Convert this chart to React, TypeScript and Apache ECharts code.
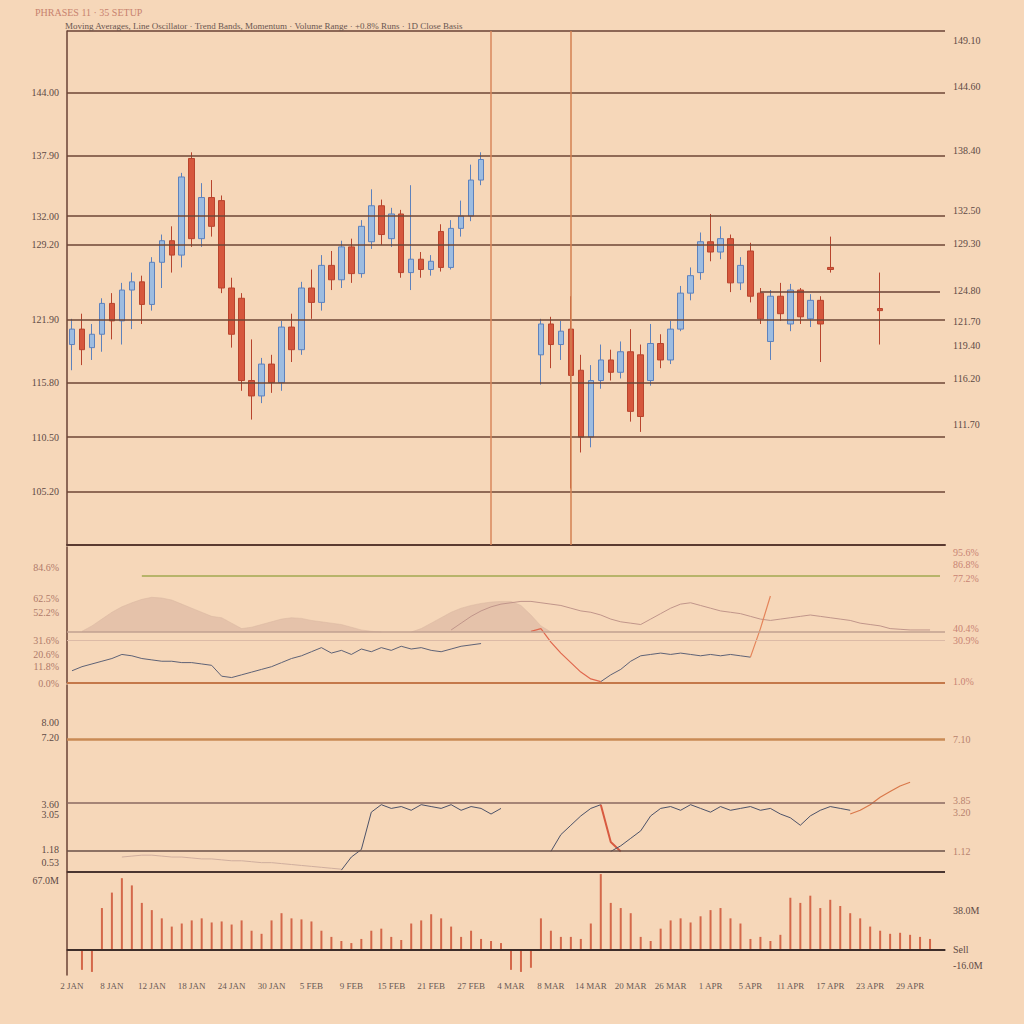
import React, { useEffect, useRef } from "react";
import * as echarts from "echarts";

const N = 88;

// ---------- categories (trading days) ----------
const categories: string[] = (() => {
  const months = ["JAN", "FEB", "MAR", "APR", "MAY", "JUN"];
  const out: string[] = [];
  const d = new Date(2024, 0, 2);
  while (out.length < N) {
    const wd = d.getDay();
    if (wd !== 0 && wd !== 6) out.push(`${d.getDate()} ${months[d.getMonth()]}`);
    d.setDate(d.getDate() + 1);
  }
  return out;
})();

// ---------- main panel: candles [open, close, low, high] ----------
const candleRows: (number[] | null)[] = [
  [119.5, 121.0, 117.0, 122.0], [121.0, 119.0, 117.5, 122.5], [119.2, 120.5, 118.0, 121.5], [120.5, 123.5, 118.8, 124.0],
  [123.5, 121.8, 120.0, 124.5], [121.8, 124.8, 119.5, 125.5], [124.8, 125.6, 121.0, 126.5], [125.6, 123.4, 121.5, 126.2],
  [123.4, 127.5, 122.8, 128.0], [127.5, 129.6, 125.0, 130.2], [129.6, 128.2, 126.5, 131.0], [128.2, 135.8, 127.0, 136.2],
  [137.6, 129.8, 129.0, 138.2], [129.8, 133.8, 129.0, 135.2], [133.8, 131.0, 130.0, 135.5], [133.5, 125.0, 124.5, 134.0],
  [125.0, 120.5, 119.2, 126.0], [124.0, 116.0, 115.0, 124.5], [116.0, 114.5, 112.2, 120.0], [114.5, 117.6, 113.8, 118.2],
  [117.6, 115.8, 114.8, 118.5], [115.8, 121.2, 115.0, 121.8], [121.2, 119.0, 117.8, 122.5], [119.0, 125.0, 118.5, 125.6],
  [125.0, 123.6, 122.0, 126.8], [123.6, 127.2, 122.8, 128.2], [127.2, 125.8, 124.8, 128.6], [125.8, 129.0, 125.0, 129.6],
  [129.0, 126.4, 125.5, 129.8], [126.4, 131.0, 126.0, 131.6], [129.5, 133.0, 128.8, 134.6], [133.0, 130.2, 129.2, 133.6],
  [129.8, 132.2, 129.0, 132.8], [132.2, 126.5, 126.0, 132.6], [126.5, 127.8, 124.8, 135.0], [127.8, 126.8, 126.0, 128.5],
  [126.8, 127.6, 126.2, 128.2], [130.5, 127.0, 126.6, 131.2], [127.0, 130.8, 126.8, 131.6], [130.8, 132.0, 130.0, 133.5],
  [132.0, 135.5, 131.5, 137.0], [135.5, 137.5, 135.0, 138.2],
  null, null, null, null, null,
  [118.5, 121.5, 115.6, 122.0], [121.5, 119.5, 117.2, 122.2], [119.5, 120.8, 118.0, 121.8], [121.0, 116.5, 105.5, 124.2],
  [117.0, 110.5, 109.0, 118.5], [110.5, 116.0, 109.5, 117.5], [116.0, 118.0, 115.2, 119.5], [118.0, 116.8, 116.0, 119.0],
  [116.8, 118.8, 116.2, 119.8], [118.8, 113.0, 112.0, 121.0], [118.5, 112.5, 111.0, 119.5], [116.0, 119.6, 115.5, 121.5],
  [119.6, 118.0, 117.2, 120.5], [118.0, 121.0, 117.6, 121.8], [121.0, 124.5, 120.8, 125.2], [124.5, 126.2, 123.8, 127.0],
  [126.5, 129.5, 125.8, 130.4], [129.5, 128.5, 127.6, 132.2], [128.5, 129.8, 127.8, 131.0], [129.8, 125.5, 124.6, 130.2],
  [125.5, 127.2, 124.8, 128.0], [128.6, 124.2, 123.6, 129.4], [124.5, 122.0, 121.5, 125.0], [119.8, 124.2, 118.0, 124.8],
  [124.2, 122.5, 121.8, 125.5], [121.5, 124.8, 120.8, 125.4], [124.8, 122.2, 121.5, 125.0], [122.0, 123.8, 121.2, 124.4],
  [123.8, 121.5, 117.8, 124.2], [127.0, 126.8, 126.5, 130.0],
  null, null, null, null,
  [123.0, 122.8, 119.5, 126.5],
  null, null, null, null, null, null,
];

const priceLevels = [144.0, 137.9, 132.0, 129.2, 121.9, 115.8, 110.5, 105.2];
const priceLeftTicks = [144.0, 137.9, 132.0, 129.2, 121.9, 115.8, 110.5, 105.2];
const priceRightTicks = [149.1, 144.6, 138.4, 132.5, 129.3, 124.8, 121.7, 119.4, 116.2, 111.7];

// ---------- oscillator panel ----------
const mountainA = [38, 42, 47, 52, 56, 59, 61.5, 63, 62.5, 61, 58, 55, 52, 49, 48, 44, 40, 41, 43, 45, 47, 48, 47.5, 46, 45, 44, 43, 41, 39, 38, 37.5]; // from index 1
const mountainB = [37.5, 40, 44, 48, 52, 55, 57, 58.5, 59.5, 60, 60, 57, 50, 42, 37.5]; // from index 34
const signalLine = [39, 44, 49, 53, 56, 58, 59, 60, 60, 59, 58, 57, 55, 53, 52, 50, 47, 45, 44, 43, 47, 51, 55, 58, 59, 57, 55, 53, 52, 51, 49, 47, 46, 47, 48, 49, 50, 49, 48, 47, 46, 44, 43, 42, 40, 39.5, 39, 39, 39]; // from index 38
const oscDarkA = [9, 12, 14, 16, 18, 21, 20, 18, 17, 16, 16, 15, 15, 14, 13, 5, 4, 6, 8, 10, 12, 15, 18, 20, 23, 26, 22, 24, 21, 25, 23, 26, 24, 27, 25, 26, 24, 23, 25, 27, 28, 29]; // from index 0
const oscRed = [38, 40, 30, 22, 15, 8, 3, 1]; // from index 46
const oscDarkB = [1, 6, 10, 16, 20, 21, 22, 21, 22, 21, 20, 21, 20, 21, 20, 19]; // from index 53
const oscSpike = [19, 40, 64]; // from index 68
const oscLeftTicks = [84.6, 62.5, 52.2, 31.6, 20.6, 11.8, 0];
const oscRightTicks = [95.6, 86.8, 77.2, 40.4, 30.9, 1];

// ---------- trend panel ----------
const trendFaint = [8, 8.5, 9, 9, 8.5, 8, 8, 7.5, 7, 7, 6.5, 6, 6, 5.5, 5, 5, 4.5, 4, 3.5, 3, 2.5, 2, 1.5]; // from index 5
const trendA = [1, 8, 12, 32, 36, 34, 35, 33, 36, 35, 34, 36, 33, 35, 34, 31, 34]; // from index 27
const trendB = [11, 20, 25, 30, 34, 36]; // from index 48
const trendRed = [36, 16, 11]; // from index 53
const trendC = [11, 14, 18, 22, 30, 34, 35, 33, 36, 34, 32, 35, 33, 34, 35, 33, 34, 31, 29, 25, 30, 33, 35, 34, 33]; // from index 54
const trendEnd = [31, 33, 36, 40, 43, 46, 48]; // from index 78
const trendLeftTicks = [80, 72, 36, 30.5, 11.8, 5.3];
const trendRightTicks = [71, 38.5, 32, 11.2, 6.4];

// ---------- volume panel ----------
const volume: (number | null)[] = [
  null, -20, -22, 40, 55, 69, 62, 45, 38, 30, 22, 25, 28, 30, 26, 27, 24, 28, 18, 15,
  28, 35, 30, 29, 27, 18, 12, 8, 6, 10, 18, 20, 12, 9, 25, 28, 34, 30, 22, 12,
  18, 10, 8, 6, -20, -22, -18, 30, 18, 12, 12, 10, 25, 73, 45, 40, 35, 12, 8, 20,
  28, 30, 26, 32, 38, 40, 30, 25, 10, 12, 8, 14, 50, 45, 52, 40, 48, 42, 35, 30,
  22, 18, 15, 16, 14, 12, 10, null,
];
const volLeftTicks = [67];
const volRightTicks = [38, 0, -16];

function seg(start: number, values: number[]): (number | string)[] {
  const arr: (number | string)[] = new Array(N).fill("-");
  values.forEach((v, k) => (arr[start + k] = v));
  return arr;
}

const labelStyle = { color: "#5e4a45", fontSize: 10, fontFamily: "Liberation Serif" };

function yAx(grid: number, pos: "left" | "right", min: number, max: number, ticks: number[], fmt: (v: number) => string, lineShow: boolean, color?: string) {
  return {
    type: "value",
    gridIndex: grid,
    position: pos,
    min,
    max,
    axisLine: { show: lineShow, lineStyle: { color: "#6a4236", width: 1.5 } },
    axisTick: { show: false },
    splitLine: { show: false },
    axisLabel: { ...labelStyle, color: color || labelStyle.color, customValues: ticks, formatter: (v: number) => fmt(v) },
  };
}

function xAx(grid: number, extra: any = {}) {
  return {
    type: "category",
    gridIndex: grid,
    data: categories,
    boundaryGap: true,
    axisTick: { show: false },
    axisLabel: { show: false },
    axisLine: { show: false },
    splitLine: { show: false },
    ...extra,
  };
}

const hl = (y: number, color: string, width = 1.5) => ({ yAxis: y, lineStyle: { color, width, type: "solid" } });
const hseg = (i0: number, i1: number, y: number, color: string, width = 1.5) => [
  { coord: [categories[i0], y], lineStyle: { color, width, type: "solid" } },
  { coord: [categories[i1], y] },
];

export default function App() {
  const ref = useRef<HTMLDivElement>(null);
  useEffect(() => {
    if (!ref.current) return;
    const chart = echarts.init(ref.current, null, { renderer: "svg" });
    const candleData = candleRows.map((r) => (r ? r : ["-", "-", "-", "-"]));
    const option: any = {
      animation: false,
      backgroundColor: "#f6d7b9",
      textStyle: { fontFamily: "Liberation Serif" },
      title: [
        { text: "PHRASES 11 · 35 SETUP", left: 30, top: 2, textStyle: { fontSize: 10, color: "#c8826e", fontWeight: "normal", fontFamily: "Liberation Serif" } },
        {
          text: "Moving Averages, Line Oscillator · Trend Bands, Momentum · Volume Range · +0.8% Runs · 1D Close Basis",
          left: 60, top: 16,
          textStyle: { fontSize: 9, color: "#6a5650", fontWeight: "normal", fontFamily: "Liberation Serif" },
        },
      ],
      grid: [
        { left: 67, right: 79, top: 31, height: 514 },
        { left: 67, right: 79, top: 547, height: 136 },
        { left: 67, right: 79, top: 685, height: 187 },
        { left: 67, right: 79, top: 872, height: 103 },
      ],
      xAxis: [
        xAx(0, { axisLine: { show: true, lineStyle: { color: "#5a3a30", width: 2 } } }),
        xAx(1),
        xAx(2),
        xAx(3, {
          axisLine: { show: true, lineStyle: { color: "#4a3530", width: 1.5 } },
          axisLabel: { show: true, interval: 3, color: "#6a5a55", fontSize: 9, fontFamily: "Liberation Serif", margin: 6 },
        }),
      ],
      yAxis: [
        yAx(0, "left", 100, 150, priceLeftTicks, (v) => v.toFixed(2), true),
        yAx(0, "right", 100, 150, priceRightTicks, (v) => v.toFixed(2), false),
        yAx(1, "left", 0, 100, oscLeftTicks, (v) => v.toFixed(1) + "%", true, "#b07a6a"),
        yAx(1, "right", 0, 100, oscRightTicks, (v) => v.toFixed(1) + "%", false, "#c98474"),
        yAx(2, "left", 0, 100, trendLeftTicks, (v) => (v / 10).toFixed(2), true),
        yAx(2, "right", 0, 100, trendRightTicks, (v) => (v / 10).toFixed(2), false, "#b8826e"),
        yAx(3, "left", -25, 75, volLeftTicks, (v) => v.toFixed(1) + "M", true),
        yAx(3, "right", -25, 75, volRightTicks, (v) => (v === 0 ? "Sell" : v.toFixed(1) + "M"), false),
      ],
      series: [
        {
          name: "Price",
          type: "candlestick",
          xAxisIndex: 0,
          yAxisIndex: 0,
          barWidth: 6,
          data: candleData,
          itemStyle: { color: "#9dbce0", color0: "#d6573d", borderColor: "#5d82bd", borderColor0: "#b8442d", borderWidth: 1 },
          markLine: {
            silent: true,
            symbol: ["none", "none"],
            label: { show: false },
            data: [
              hl(150, "#6a4236", 1.5),
              ...priceLevels.map((y) => hl(y, "#6e4636", 1.5)),
              hseg(69, 87, 124.6, "#6a4236", 1.5),
              { xAxis: categories[42], lineStyle: { color: "#d9875c", width: 1.5, type: "solid" } },
              { xAxis: categories[50], lineStyle: { color: "#d38152", width: 1.5, type: "solid" } },
            ],
          },
        },
        {
          name: "Band A",
          type: "line",
          xAxisIndex: 1,
          yAxisIndex: 2,
          data: seg(1, mountainA),
          symbol: "none",
          lineStyle: { width: 0.5, color: "#d9b7a1" },
          areaStyle: { color: "#e3c0a8", opacity: 0.9, origin: 37.5 },
          markLine: {
            silent: true,
            symbol: ["none", "none"],
            label: { show: false },
            data: [
              hseg(7, 87, 78.7, "#b7b46a", 2),
              hl(37.5, "#c0a090", 1.5),
              hl(31.6, "#dcbaa6", 1),
              hl(0.3, "#c4784a", 2),
            ],
          },
        },
        {
          name: "Band B",
          type: "line",
          xAxisIndex: 1,
          yAxisIndex: 2,
          data: seg(34, mountainB),
          symbol: "none",
          lineStyle: { width: 0.5, color: "#d9b7a1" },
          areaStyle: { color: "#e3c0a8", opacity: 0.9, origin: 37.5 },
        },
        { name: "Signal", type: "line", xAxisIndex: 1, yAxisIndex: 2, data: seg(38, signalLine), symbol: "none", lineStyle: { width: 1, color: "#c0958a" } },
        { name: "Osc", type: "line", xAxisIndex: 1, yAxisIndex: 2, data: seg(0, oscDarkA), symbol: "none", lineStyle: { width: 1, color: "#5e6276" } },
        { name: "Osc drop", type: "line", xAxisIndex: 1, yAxisIndex: 2, data: seg(46, oscRed), symbol: "none", lineStyle: { width: 1.2, color: "#e0684e" } },
        { name: "Osc rec", type: "line", xAxisIndex: 1, yAxisIndex: 2, data: seg(53, oscDarkB), symbol: "none", lineStyle: { width: 1, color: "#5e6276" } },
        { name: "Osc spike", type: "line", xAxisIndex: 1, yAxisIndex: 2, data: seg(68, oscSpike), symbol: "none", lineStyle: { width: 1.2, color: "#e4845a" } },
        {
          name: "Trend faint",
          type: "line",
          xAxisIndex: 2,
          yAxisIndex: 4,
          data: seg(5, trendFaint),
          symbol: "none",
          lineStyle: { width: 1, color: "#cfae9e" },
          markLine: {
            silent: true,
            symbol: ["none", "none"],
            label: { show: false },
            data: [hl(71, "#c98a55", 2.5), hl(37, "#8a6860", 1.5), hl(11.2, "#6a5048", 1.5), hl(0.4, "#4a3530", 2)],
          },
        },
        { name: "Trend", type: "line", xAxisIndex: 2, yAxisIndex: 4, data: seg(27, trendA), symbol: "none", lineStyle: { width: 1, color: "#4c5268" } },
        { name: "Trend 2", type: "line", xAxisIndex: 2, yAxisIndex: 4, data: seg(48, trendB), symbol: "none", lineStyle: { width: 1, color: "#4c5268" } },
        { name: "Trend drop", type: "line", xAxisIndex: 2, yAxisIndex: 4, data: seg(53, trendRed), symbol: "none", lineStyle: { width: 2, color: "#d85a40" } },
        { name: "Trend 3", type: "line", xAxisIndex: 2, yAxisIndex: 4, data: seg(54, trendC), symbol: "none", lineStyle: { width: 1, color: "#4c5268" } },
        { name: "Trend end", type: "line", xAxisIndex: 2, yAxisIndex: 4, data: seg(78, trendEnd), symbol: "none", lineStyle: { width: 1.2, color: "#d9784a" } },
        {
          name: "Volume",
          type: "bar",
          xAxisIndex: 3,
          yAxisIndex: 6,
          barWidth: 2,
          data: volume.map((v) => (v === null ? "-" : v)),
          itemStyle: { color: "#d4684a" },
          markLine: {
            silent: true,
            symbol: ["none", "none"],
            label: { show: false },
            data: [hl(0, "#3e2e2a", 2)],
          },
        },
      ],
    };
    chart.setOption(option);
    return () => chart.dispose();
  }, []);
  return <div ref={ref} style={{ position: "absolute", left: 0, top: 0, width: 1024, height: 1024 }} />;
}
